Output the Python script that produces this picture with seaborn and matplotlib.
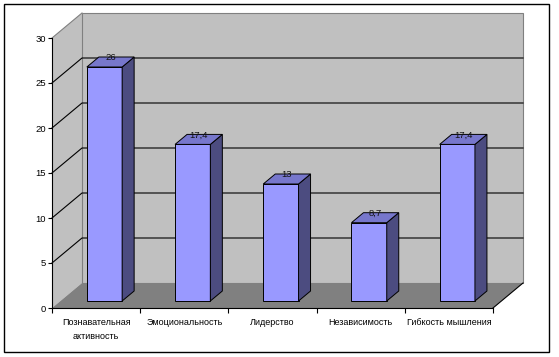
import matplotlib
matplotlib.use("Agg")
import matplotlib.pyplot as plt
from matplotlib.patches import Polygon, Rectangle
import seaborn as sns
import pandas as pd

categories = ['Познавательная\nактивность', 'Эмоциональность', 'Лидерство',
              'Независимость', 'Гибкость мышления']
values = [26, 17.4, 13, 8.7, 17.4]
value_labels = ['26', '17,4', '13', '8,7', '17,4']
y_ticks = [0, 5, 10, 15, 20, 25, 30]

plt.rcParams['font.family'] = ['Liberation Sans', 'DejaVu Sans']

W, H = 559, 357
fig = plt.figure(figsize=(W / 100, H / 100), dpi=100)
fig.patch.set_facecolor('white')
ax = fig.add_axes([52 / W, 49 / H, 441 / W, 270 / H])
ax.patch.set_visible(False)

df = pd.DataFrame({'cat': categories, 'val': values})
sns.barplot(data=df, x='cat', y='val', ax=ax, color='#9999FF', saturation=1,
            width=0.4, edgecolor='black', linewidth=0.7, errorbar=None, zorder=3)

ax.set_xlim(-0.5, 4.5)
ax.set_ylim(0, 30)

# depth projection in data units
DX = 30 / (441 / 5)
DY = 25 / 9.0
d0, d1 = 0.28, 0.68


def proj(x, y, d):
    return (x + d * DX, y + d * DY)


def poly(pts, fc, ec='none', lw=0.7, z=0.2):
    ax.add_patch(Polygon(pts, closed=True, facecolor=fc, edgecolor=ec,
                         linewidth=lw, clip_on=False, zorder=z))


xl, xr = -0.5, 4.5
# left wall
poly([proj(xl, 0, 0), proj(xl, 30, 0), proj(xl, 30, 1), proj(xl, 0, 1)], '#C0C0C0')
# back wall
poly([proj(xl, 0, 1), proj(xr, 0, 1), proj(xr, 30, 1), proj(xl, 30, 1)], '#C0C0C0',
     ec='#808080', lw=0.8)
# floor
poly([proj(xl, 0, 0), proj(xr, 0, 0), proj(xr, 0, 1), proj(xl, 0, 1)], '#808080')
# gridlines
for yv in y_ticks[1:-1]:
    a, b, c = proj(xl, yv, 0), proj(xl, yv, 1), proj(xr, yv, 1)
    ax.plot([a[0], b[0], c[0]], [a[1], b[1], c[1]], color='black', lw=0.8,
            clip_on=False, zorder=0.5)
a, b = proj(xl, 30, 0), proj(xl, 30, 1)
ax.plot([a[0], b[0]], [a[1], b[1]], color='#808080', lw=0.8, clip_on=False, zorder=0.5)
a, b = proj(xr, 0, 0), proj(xr, 0, 1)
ax.plot([a[0], b[0]], [a[1], b[1]], color='black', lw=0.8, clip_on=False, zorder=0.5)

# 3D bars from seaborn patches
for p, lab in zip(ax.patches[:len(values)], value_labels):
    x0, w, h = p.get_x(), p.get_width(), p.get_height()
    fx, fy = proj(x0, 0, d0)
    p.set_x(fx)
    p.set_y(fy)
    p.set_clip_on(False)
    poly([proj(x0 + w, 0, d0), proj(x0 + w, h, d0), proj(x0 + w, h, d1),
          proj(x0 + w, 0, d1)], '#4C4C80', ec='black', z=3)
    poly([proj(x0, h, d0), proj(x0 + w, h, d0), proj(x0 + w, h, d1),
          proj(x0, h, d1)], '#7777CC', ec='black', z=3)
    tx, _ = proj(x0 + w / 2, h, (d0 + d1) / 2)
    _, ty = proj(x0 + w / 2, h, d1)
    ax.text(tx, ty - 0.1, lab, ha='center', va='center', fontsize=6.8,
            color='#111111', zorder=4, clip_on=False)

# axes
for s in ['top', 'right']:
    ax.spines[s].set_visible(False)
for s in ['left', 'bottom']:
    ax.spines[s].set_color('black')
    ax.spines[s].set_linewidth(0.8)
ax.set_yticks(y_ticks)
ax.set_yticklabels([str(v) for v in y_ticks])
ax.set_xticks([i - 0.5 for i in range(len(values) + 1)], minor=True)
ax.tick_params(axis='y', length=3, width=0.8, pad=1.5, labelsize=6.8, colors='black')
ax.tick_params(axis='x', which='major', length=0, pad=7.5, labelsize=6.5)
ax.tick_params(axis='x', which='minor', length=3.6, width=0.8)
for t in ax.get_xticklabels():
    t.set_linespacing(1.6)
ax.set_xlabel('')
ax.set_ylabel('')

# outer frame
fig.add_artist(Rectangle((3.5 / W, 5.5 / H), 545.5 / W, 347 / H, transform=fig.transFigure,
                         fill=False, edgecolor='black', linewidth=1.0))

fig.savefig('out.png', dpi=100)
